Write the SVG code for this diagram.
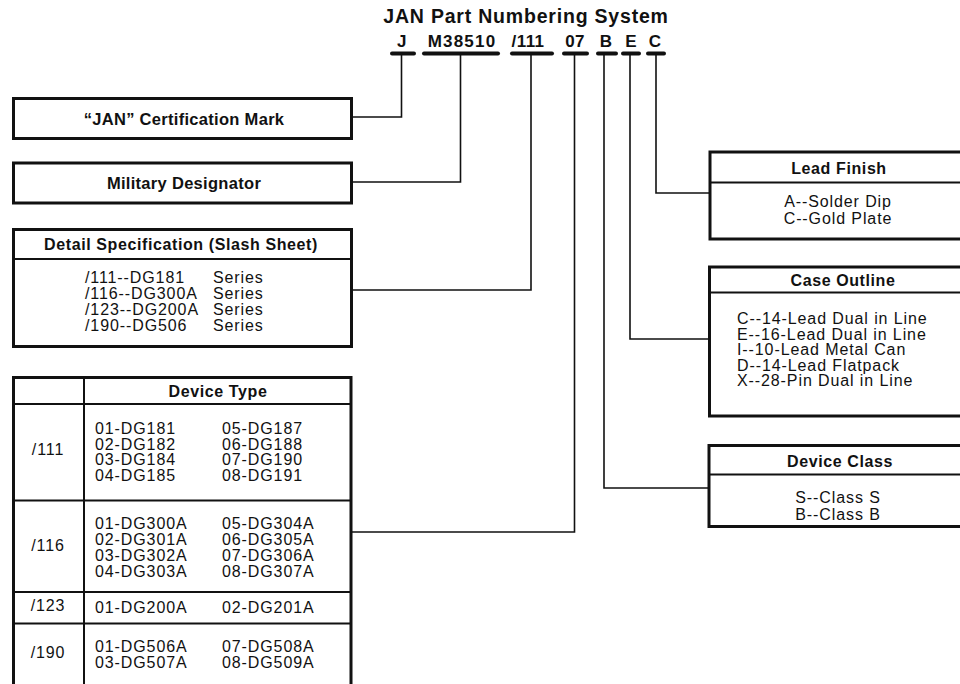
<svg xmlns="http://www.w3.org/2000/svg" width="960" height="684" viewBox="0 0 960 684">
<style>
  text { font-family: "Liberation Sans", Arial, Helvetica, sans-serif; fill: #111; }
  .title { font-size: 19.5px; font-weight: bold; letter-spacing: 0.8px; text-anchor: middle; }
  .code { font-size: 17px; font-weight: bold; letter-spacing: 0.4px; text-anchor: middle; }
  .hdr { font-size: 16px; font-weight: bold; letter-spacing: 0.6px; text-anchor: middle; }
  .big { font-size: 16.5px; font-weight: bold; letter-spacing: 0.3px; text-anchor: middle; }
  .body { font-size: 16px; letter-spacing: 0.9px; }
  .mid { text-anchor: middle; }
  .box { fill: #fff; stroke: #111; stroke-width: 3; }
  .frame { fill: none; stroke: #111; stroke-width: 3; }
  .div { stroke: #111; stroke-width: 2; fill: none; }
  .bar { stroke: #111; stroke-width: 4; stroke-linecap: round; }
  .conn { fill: none; stroke: #111; stroke-width: 1.6; }
</style>
<rect width="960" height="684" fill="#fff"/>

<g id="title">
  <text class="title" x="526" y="23">JAN Part Numbering System</text>
</g>

<g id="part-number">
  <g id="pn-j"><text class="code" x="402" y="47">J</text><line class="bar" x1="392" y1="53.5" x2="414" y2="53.5"/></g>
  <g id="pn-m"><text class="code" x="462" y="47" style="letter-spacing:1.2px">M38510</text><line class="bar" x1="424" y1="53.5" x2="498" y2="53.5"/></g>
  <g id="pn-111"><text class="code" x="528" y="47">/111</text><line class="bar" x1="512" y1="53.5" x2="552" y2="53.5"/></g>
  <g id="pn-07"><text class="code" x="575" y="47">07</text><line class="bar" x1="564" y1="53.5" x2="587" y2="53.5"/></g>
  <g id="pn-b"><text class="code" x="606" y="47">B</text><line class="bar" x1="598" y1="53.5" x2="616" y2="53.5"/></g>
  <g id="pn-e"><text class="code" x="631" y="47">E</text><line class="bar" x1="623" y1="53.5" x2="639" y2="53.5"/></g>
  <g id="pn-c"><text class="code" x="655" y="47">C</text><line class="bar" x1="648" y1="53.5" x2="664" y2="53.5"/></g>
</g>

<g id="connectors">
  <path class="conn" d="M401.5,53.5 V117 H352"/>
  <path class="conn" d="M460.5,53.5 V182 H352"/>
  <path class="conn" d="M531,53.5 V290 H352"/>
  <path class="conn" d="M574.5,53.5 V532 H352"/>
  <path class="conn" d="M604,53.5 V488 H709"/>
  <path class="conn" d="M630,53.5 V339 H709"/>
  <path class="conn" d="M656,53.5 V193 H710"/>
</g>

<g id="jan-mark">
  <rect class="box" x="13.5" y="98.5" width="338" height="40"/>
  <text class="big" x="184" y="124.5">“JAN” Certification Mark</text>
</g>

<g id="military-designator">
  <rect class="box" x="13.5" y="163" width="338" height="40"/>
  <text class="big" x="184" y="189">Military Designator</text>
</g>

<g id="detail-specification">
  <rect class="box" x="13.5" y="229.5" width="338" height="117"/>
  <line class="div" x1="13.5" y1="259" x2="351.5" y2="259"/>
  <text class="hdr" x="181" y="250">Detail Specification (Slash Sheet)</text>
  <text class="body" x="85" y="283">/111--DG181<tspan x="213">Series</tspan></text>
  <text class="body" x="85" y="299">/116--DG300A<tspan x="213">Series</tspan></text>
  <text class="body" x="85" y="315">/123--DG200A<tspan x="213">Series</tspan></text>
  <text class="body" x="85" y="331">/190--DG506<tspan x="213">Series</tspan></text>
</g>

<g id="device-type">
  <path class="frame" d="M13.5,690 V377.5 H351 V690"/>
  <line class="div" x1="13.5" y1="404" x2="351" y2="404"/>
  <line class="div" x1="84" y1="377.5" x2="84" y2="690"/>
  <line class="div" x1="13.5" y1="500.5" x2="351" y2="500.5"/>
  <line class="div" x1="13.5" y1="592" x2="351" y2="592"/>
  <line class="div" x1="13.5" y1="623.5" x2="351" y2="623.5"/>
  <text class="hdr" x="218" y="397">Device Type</text>

  <text class="body mid" x="48" y="455">/111</text>
  <text class="body" x="95" y="434">01-DG181</text><text class="body" x="222" y="434">05-DG187</text>
  <text class="body" x="95" y="449.5">02-DG182</text><text class="body" x="222" y="449.5">06-DG188</text>
  <text class="body" x="95" y="465">03-DG184</text><text class="body" x="222" y="465">07-DG190</text>
  <text class="body" x="95" y="480.5">04-DG185</text><text class="body" x="222" y="480.5">08-DG191</text>

  <text class="body mid" x="48" y="551">/116</text>
  <text class="body" x="95" y="529">01-DG300A</text><text class="body" x="222" y="529">05-DG304A</text>
  <text class="body" x="95" y="545">02-DG301A</text><text class="body" x="222" y="545">06-DG305A</text>
  <text class="body" x="95" y="561">03-DG302A</text><text class="body" x="222" y="561">07-DG306A</text>
  <text class="body" x="95" y="577">04-DG303A</text><text class="body" x="222" y="577">08-DG307A</text>

  <text class="body mid" x="48" y="611">/123</text>
  <text class="body" x="95" y="613">01-DG200A</text><text class="body" x="222" y="613">02-DG201A</text>

  <text class="body mid" x="48" y="658">/190</text>
  <text class="body" x="95" y="652">01-DG506A</text><text class="body" x="222" y="652">07-DG508A</text>
  <text class="body" x="95" y="668">03-DG507A</text><text class="body" x="222" y="668">08-DG509A</text>
</g>

<g id="lead-finish">
  <rect class="box" x="710" y="152" width="262" height="87"/>
  <line class="div" x1="710" y1="182.5" x2="972" y2="182.5"/>
  <text class="hdr" x="839" y="174">Lead Finish</text>
  <text class="body mid" x="838" y="207">A--Solder Dip</text>
  <text class="body mid" x="838" y="224">C--Gold Plate</text>
</g>

<g id="case-outline">
  <rect class="box" x="709.5" y="267" width="262" height="149"/>
  <line class="div" x1="709.5" y1="292.5" x2="972" y2="292.5"/>
  <text class="hdr" x="843" y="286">Case Outline</text>
  <text class="body" x="737" y="324">C--14-Lead Dual in Line</text>
  <text class="body" x="737" y="339.5">E--16-Lead Dual in Line</text>
  <text class="body" x="737" y="355">I--10-Lead Metal Can</text>
  <text class="body" x="737" y="370.5">D--14-Lead Flatpack</text>
  <text class="body" x="737" y="386">X--28-Pin Dual in Line</text>
</g>

<g id="device-class">
  <rect class="box" x="709" y="445.5" width="262" height="81"/>
  <line class="div" x1="709" y1="474.5" x2="972" y2="474.5"/>
  <text class="hdr" x="840" y="467">Device Class</text>
  <text class="body mid" x="838" y="503">S--Class S</text>
  <text class="body mid" x="838" y="520">B--Class B</text>
</g>
</svg>
